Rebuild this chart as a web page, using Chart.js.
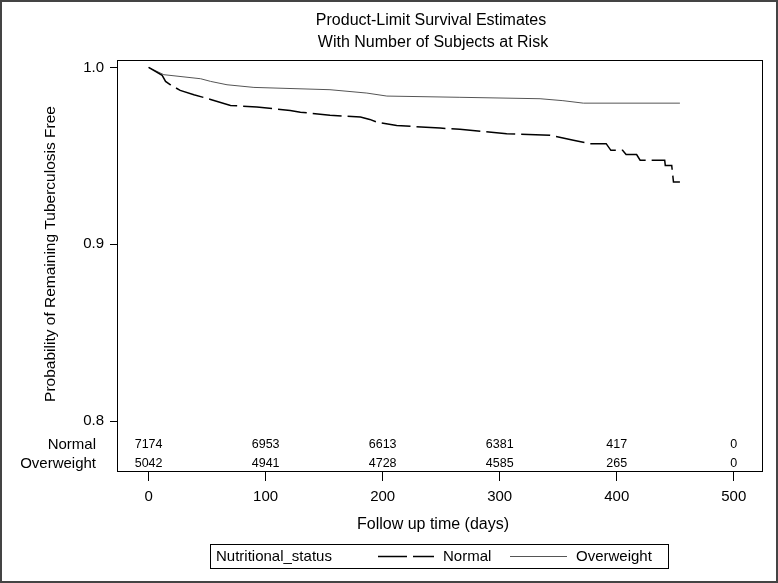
<!DOCTYPE html>
<html>
<head>
<meta charset="utf-8">
<script src="https://cdn.jsdelivr.net/npm/chart.js@4/dist/chart.umd.min.js"></script>
<style>
  html, body { margin: 0; padding: 0; background: #fff; }
  canvas { display: block; }
</style>
</head>
<body>
<canvas id="c" width="778" height="583"></canvas>
<script>
// ---- data ----
const normalTimes = [0, 11.6, 14.5, 18.7, 27, 38.7, 53, 70, 92.5, 121, 129.7, 155, 181, 189, 195, 212, 249, 266, 306, 343, 363, 377, 391, 395, 405, 408, 417, 420, 441, 441.5, 447, 448.5, 454];
const normalSurv  = [1.0, 0.9955, 0.9921, 0.9902, 0.9870, 0.9846, 0.9819, 0.9785, 0.9776, 0.9757, 0.9747, 0.9729, 0.9719, 0.9706, 0.9691, 0.9672, 0.9657, 0.9650, 0.9625, 0.9616, 0.9588, 0.9569, 0.9569, 0.9531, 0.9531, 0.9507, 0.9507, 0.9475, 0.9475, 0.9446, 0.9446, 0.9352, 0.9352];
const overTimes = [0, 13, 44.5, 53, 67, 90, 155, 186.5, 203.6, 266, 334.5, 354, 371.5, 454];
const overSurv  = [1.0, 0.9959, 0.9936, 0.9921, 0.9902, 0.9887, 0.9874, 0.9855, 0.9838, 0.9831, 0.9823, 0.9812, 0.9798, 0.9798];
const riskTimes = [0, 100, 200, 300, 400, 500];
const normalAtRisk = [7174, 6953, 6613, 6381, 417, 0];
const overAtRisk   = [5042, 4941, 4728, 4585, 265, 0];
const xTicks = [0, 100, 200, 300, 400, 500];
const yTicks = [0.8, 0.9, 1.0];
const groupNames = ['Normal', 'Overweight'];
const titleLines = ['Product-Limit Survival Estimates', 'With Number of Subjects at Risk'];
const xTitle = 'Follow up time (days)';
const yTitle = 'Probability of Remaining Tuberculosis Free';
const legendTitle = 'Nutritional_status';

const FONT = '"Liberation Sans", Arial, Helvetica, sans-serif';
const DASH = [29, 6];

const decor = {
  id: 'decor',
  afterDraw(chart) {
    const ctx = chart.ctx;
    const a = chart.chartArea;
    const xs = chart.scales.x;
    ctx.save();
    // plot frame
    ctx.strokeStyle = '#000';
    ctx.lineWidth = 1;
    ctx.setLineDash([]);
    ctx.strokeRect(Math.round(a.left) + 0.5, Math.round(a.top) + 0.5,
                   Math.round(a.right - a.left) - 1, Math.round(a.bottom - a.top) - 1);
    ctx.fillStyle = '#000';
    // titles
    ctx.font = '16px ' + FONT;
    ctx.textAlign = 'center';
    ctx.textBaseline = 'middle';
    ctx.fillText(titleLines[0], 431, 21);
    ctx.fillText(titleLines[1], 433, 43);
    // x title
    ctx.fillText(xTitle, 433, 525);
    // y title
    ctx.save();
    ctx.translate(51, 254);
    ctx.rotate(-Math.PI / 2);
    ctx.font = '15.5px ' + FONT;
    ctx.fillText(yTitle, 0, 0);
    ctx.restore();
    // at-risk table
    ctx.font = '15px ' + FONT;
    ctx.textAlign = 'right';
    ctx.fillText(groupNames[0], 96, 445);
    ctx.fillText(groupNames[1], 96, 464);
    ctx.font = '12.5px ' + FONT;
    ctx.textAlign = 'center';
    riskTimes.forEach((t, i) => {
      const px = xs.getPixelForValue(t);
      ctx.fillText(String(normalAtRisk[i]), px, 445);
      ctx.fillText(String(overAtRisk[i]), px, 464);
    });
    // legend
    ctx.strokeStyle = '#000';
    ctx.lineWidth = 1;
    ctx.strokeRect(210.5, 544.5, 458, 24);
    ctx.font = '15px ' + FONT;
    ctx.textAlign = 'left';
    ctx.fillText(legendTitle, 216, 557);
    ctx.beginPath();
    ctx.setLineDash(DASH);
    ctx.lineWidth = 1.5;
    ctx.strokeStyle = '#000';
    ctx.moveTo(378, 556.5);
    ctx.lineTo(434, 556.5);
    ctx.stroke();
    ctx.setLineDash([]);
    ctx.fillText(groupNames[0], 443, 557);
    ctx.beginPath();
    ctx.lineWidth = 1;
    ctx.strokeStyle = '#555';
    ctx.moveTo(510, 556.5);
    ctx.lineTo(567, 556.5);
    ctx.stroke();
    ctx.fillText(groupNames[1], 576, 557);
    // outer frame
    ctx.strokeStyle = '#444';
    ctx.lineWidth = 2;
    ctx.strokeRect(1, 1, 776, 581);
    ctx.restore();
  }
};

new Chart(document.getElementById('c'), {
  type: 'line',
  data: {
    datasets: [
      {
        label: groupNames[0],
        data: normalTimes.map((t, i) => ({ x: t, y: normalSurv[i] })),
        borderColor: '#000',
        borderWidth: 1.5,
        borderDash: DASH,
        pointRadius: 0,
        tension: 0,
        fill: false
      },
      {
        label: groupNames[1],
        data: overTimes.map((t, i) => ({ x: t, y: overSurv[i] })),
        borderColor: '#555',
        borderWidth: 1,
        pointRadius: 0,
        tension: 0,
        fill: false
      }
    ]
  },
  options: {
    responsive: false,
    animation: false,
    devicePixelRatio: 1,
    layout: { padding: { left: 0, right: 15, top: 60, bottom: 0 } },
    plugins: { legend: { display: false }, tooltip: { enabled: false }, title: { display: false } },
    scales: {
      x: {
        type: 'linear',
        min: -27,
        max: 525,
        afterBuildTicks: s => { s.ticks = xTicks.map(v => ({ value: v })); },
        afterFit: s => { s.height = 111; },
        ticks: { color: '#000', font: { family: FONT, size: 15 }, padding: 7, maxRotation: 0, autoSkip: false,
                 callback: v => String(v) },
        grid: { drawOnChartArea: false, drawTicks: true, tickLength: 9, color: '#000', lineWidth: 1 },
        border: { display: false }
      },
      y: {
        type: 'linear',
        min: 0.7712,
        max: 1.0042,
        afterBuildTicks: s => { s.ticks = yTicks.map(v => ({ value: v })); },
        afterFit: s => { s.width = 117; },
        ticks: { color: '#000', font: { family: FONT, size: 15 }, padding: 6, autoSkip: false,
                 callback: v => Number(v).toFixed(1) },
        grid: { drawOnChartArea: false, drawTicks: true, tickLength: 7, color: '#000', lineWidth: 1 },
        border: { display: false }
      }
    }
  },
  plugins: [decor]
});
</script>
</body>
</html>
